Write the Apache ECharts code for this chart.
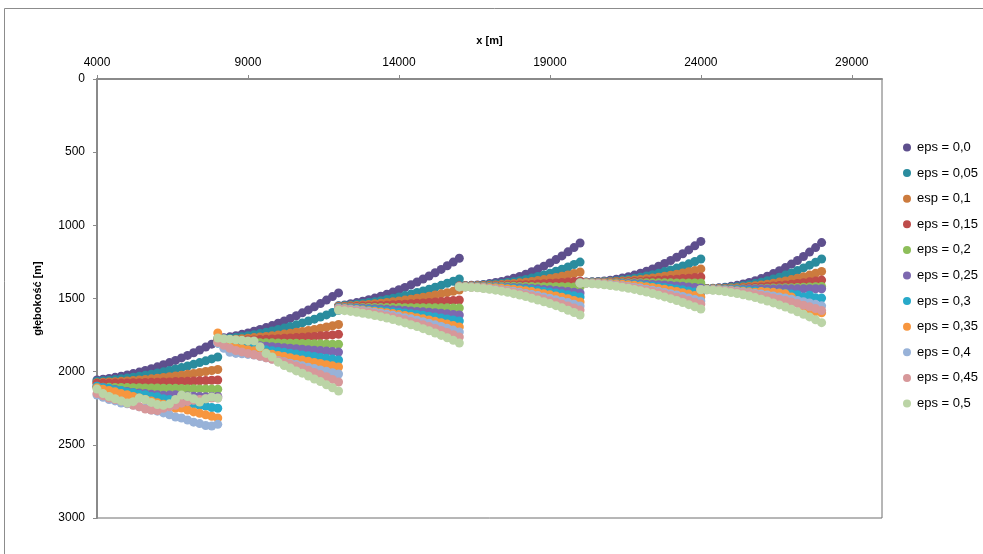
<!DOCTYPE html>
<html>
<head>
<meta charset="utf-8">
<script src="https://cdn.jsdelivr.net/npm/echarts@6/dist/echarts.min.js"></script>
<style>
html,body{margin:0;padding:0;background:#fff;}
#chart{width:983px;height:554px;}
</style>
</head>
<body>
<div id="chart"></div>
<script>
// Segment start positions (m) and sample offsets within a segment (m)
const segStarts = [4000, 8000, 12000, 16000, 20000, 24000];
const xOffsets = [0,200,400,600,800,1000,1200,1400,1600,1800,2000,2200,2400,2600,2800,3000,3200,3400,3600,3800,4000];
const xTicks = [4000, 9000, 14000, 19000, 24000, 29000];
const yTicks = [0, 500, 1000, 1500, 2000, 2500, 3000];

const seriesNames = ['eps = 0,0','eps = 0,05','esp = 0,1','eps = 0,15','eps = 0,2','eps = 0,25','eps = 0,3','eps = 0,35','eps = 0,4','eps = 0,45','eps = 0,5'];

// depth values [m], one sub-array per segment
const eps00 = [
[2057,2052,2046,2039,2031,2023,2013,2003,1992,1980,1967,1953,1938,1923,1906,1889,1871,1852,1832,1812,1790],
[1775,1769,1762,1754,1745,1735,1724,1712,1699,1685,1669,1653,1636,1618,1598,1578,1557,1535,1511,1487,1462],
[1550,1544,1536,1528,1519,1508,1497,1484,1471,1456,1440,1424,1406,1387,1367,1346,1324,1301,1276,1251,1225],
[1412,1412,1410,1408,1404,1398,1391,1383,1373,1362,1349,1334,1317,1299,1279,1257,1234,1209,1181,1152,1121],
[1388,1388,1386,1384,1380,1375,1368,1360,1351,1340,1327,1313,1298,1280,1261,1240,1218,1194,1168,1140,1110],
[1432,1432,1430,1427,1423,1417,1410,1401,1390,1378,1364,1348,1330,1310,1289,1265,1240,1213,1183,1152,1118]];
const eps005 = [
[2065,2062,2058,2054,2049,2044,2038,2032,2025,2017,2009,2001,1992,1982,1972,1961,1950,1938,1926,1913,1900],
[1780,1776,1772,1767,1761,1754,1747,1740,1731,1722,1712,1702,1691,1680,1667,1654,1641,1627,1612,1596,1580],
[1552,1548,1544,1540,1534,1528,1522,1515,1507,1499,1489,1480,1470,1459,1448,1436,1423,1410,1396,1382,1367],
[1413,1413,1412,1411,1408,1405,1401,1397,1391,1385,1378,1370,1360,1350,1339,1327,1314,1300,1285,1268,1251],
[1389,1389,1388,1387,1384,1382,1378,1373,1368,1361,1354,1346,1337,1327,1316,1305,1292,1278,1263,1247,1230],
[1433,1433,1432,1430,1427,1423,1419,1413,1406,1398,1389,1379,1367,1354,1340,1325,1309,1291,1272,1252,1230]];
const eps010 = [
[2075,2073,2071,2069,2066,2063,2060,2057,2053,2049,2045,2040,2035,2030,2024,2018,2012,2006,1999,1992,1985],
[1785,1783,1781,1778,1775,1771,1767,1763,1759,1754,1749,1743,1737,1731,1725,1718,1711,1703,1695,1687,1678],
[1555,1553,1550,1547,1544,1541,1536,1532,1527,1522,1517,1511,1505,1498,1491,1484,1476,1468,1460,1451,1442],
[1414,1414,1413,1413,1411,1410,1407,1405,1401,1398,1393,1389,1383,1377,1371,1364,1356,1348,1339,1329,1319],
[1390,1390,1389,1389,1387,1386,1383,1381,1378,1374,1370,1365,1360,1354,1348,1341,1334,1326,1317,1308,1298],
[1434,1434,1433,1432,1431,1428,1426,1422,1418,1413,1408,1402,1395,1388,1380,1371,1361,1351,1340,1328,1315]];
const eps015 = [
[2080,2080,2079,2078,2078,2077,2076,2075,2074,2073,2072,2071,2070,2068,2067,2066,2064,2062,2061,2059,2057],
[1790,1789,1788,1787,1786,1784,1783,1781,1779,1777,1775,1772,1770,1767,1765,1762,1759,1755,1752,1749,1745],
[1557,1556,1555,1554,1552,1551,1549,1548,1546,1543,1541,1539,1536,1533,1530,1527,1524,1521,1517,1514,1510],
[1415,1415,1415,1414,1414,1413,1413,1412,1410,1409,1407,1406,1404,1401,1399,1396,1394,1391,1387,1384,1380],
[1391,1391,1391,1390,1390,1389,1388,1387,1386,1384,1383,1381,1379,1376,1374,1371,1368,1364,1361,1357,1353],
[1434,1434,1434,1433,1432,1431,1430,1428,1426,1424,1421,1418,1414,1411,1407,1402,1397,1392,1386,1380,1374]];
const eps020 = [
[2105,2106,2107,2108,2108,2109,2110,2110,2111,2112,2112,2113,2114,2114,2115,2116,2117,2118,2118,2119,2120],
[1795,1796,1797,1798,1799,1800,1801,1802,1803,1803,1804,1805,1806,1806,1807,1808,1809,1810,1811,1812,1813],
[1560,1560,1560,1561,1561,1561,1561,1562,1562,1562,1562,1563,1563,1563,1563,1564,1564,1564,1564,1565,1565],
[1416,1416,1416,1416,1416,1416,1417,1417,1417,1417,1418,1418,1418,1419,1419,1419,1420,1420,1420,1421,1421],
[1392,1392,1392,1392,1392,1392,1392,1392,1392,1392,1393,1393,1393,1393,1393,1393,1394,1394,1394,1394,1394],
[1435,1435,1435,1435,1435,1434,1434,1433,1433,1432,1431,1430,1429,1428,1427,1426,1425,1423,1422,1420,1418]];
const eps025 = [
[2100,2108,2115,2122,2130,2135,2142,2146,2150,2155,2158,2162,2160,2158,2163,2166,2168,2170,2172,2170,2170],
[1800,1803,1807,1810,1813,1817,1820,1823,1826,1830,1833,1836,1840,1843,1846,1850,1853,1856,1859,1863,1866],
[1562,1563,1564,1565,1567,1569,1570,1572,1574,1577,1579,1582,1585,1588,1591,1594,1597,1601,1605,1609,1613],
[1417,1417,1417,1418,1418,1419,1420,1421,1423,1425,1427,1429,1432,1434,1438,1441,1445,1448,1453,1457,1462],
[1392,1392,1392,1393,1393,1394,1395,1396,1397,1398,1400,1402,1404,1406,1408,1411,1414,1417,1421,1424,1428],
[1436,1436,1436,1436,1436,1436,1436,1436,1435,1435,1435,1435,1435,1434,1434,1434,1434,1434,1433,1433,1433]];
const eps030 = [
[2100,2110,2114,2125,2128,2140,2144,2155,2158,2170,2172,2185,2190,2200,2203,2215,2220,2232,2235,2245,2250],
[1805,1811,1817,1822,1828,1834,1840,1845,1851,1857,1863,1868,1874,1880,1886,1891,1897,1903,1909,1914,1920],
[1564,1566,1568,1570,1573,1576,1579,1582,1586,1590,1594,1599,1604,1609,1615,1621,1627,1633,1640,1647,1654],
[1418,1418,1418,1419,1420,1421,1423,1425,1428,1430,1434,1437,1441,1446,1451,1456,1462,1468,1475,1482,1490],
[1393,1393,1393,1394,1395,1396,1398,1400,1402,1405,1408,1411,1415,1420,1424,1430,1435,1441,1448,1455,1462],
[1437,1437,1437,1438,1439,1440,1441,1443,1445,1447,1450,1453,1457,1460,1464,1469,1474,1490,1478,1495,1497]];
const eps035 = [
[2110,2120,2128,2138,2150,2158,2170,2180,2190,2200,2212,2222,2235,2250,2248,2262,2275,2285,2295,2305,2317],
[1735,1818,1826,1834,1842,1850,1857,1865,1873,1881,1889,1897,1905,1913,1921,1929,1937,1944,1952,1960,1968],
[1566,1568,1571,1575,1578,1583,1587,1592,1597,1603,1610,1616,1623,1631,1639,1647,1656,1665,1675,1685,1695],
[1419,1419,1420,1421,1422,1424,1426,1429,1433,1437,1442,1447,1453,1460,1467,1475,1483,1492,1502,1513,1524],
[1393,1393,1394,1394,1396,1398,1400,1403,1406,1410,1414,1419,1425,1431,1437,1445,1452,1461,1470,1480,1490],
[1438,1438,1439,1440,1442,1444,1447,1450,1454,1458,1452,1455,1458,1462,1468,1490,1520,1550,1575,1590,1598]];
const eps040 = [
[2160,2175,2190,2200,2214,2220,2228,2240,2250,2262,2270,2282,2295,2310,2317,2330,2345,2355,2368,2372,2360],
[1805,1840,1868,1875,1878,1882,1886,1895,1905,1914,1923,1932,1942,1951,1960,1970,1979,1988,1998,2007,2016],
[1568,1571,1575,1579,1583,1589,1594,1601,1607,1615,1622,1631,1639,1649,1659,1669,1680,1691,1704,1716,1729],
[1420,1421,1422,1424,1427,1431,1435,1440,1445,1451,1458,1465,1472,1480,1489,1498,1508,1518,1528,1539,1551],
[1394,1395,1396,1398,1401,1404,1408,1413,1418,1423,1429,1436,1443,1451,1459,1467,1476,1486,1496,1506,1517],
[1438,1439,1440,1442,1444,1447,1451,1455,1460,1465,1470,1476,1483,1490,1497,1505,1513,1522,1531,1540,1550]];
const eps045 = [
[2150,2165,2180,2190,2200,2215,2230,2240,2255,2262,2265,2250,2240,2230,2215,2205,2195,2190,2185,2180,2180],
[1800,1820,1840,1855,1865,1875,1885,1895,1905,1915,1925,1935,1950,1962,1975,1990,2005,2020,2035,2053,2071],
[1572,1576,1580,1585,1590,1596,1603,1611,1619,1627,1637,1646,1657,1668,1680,1692,1705,1718,1733,1748,1763],
[1420,1421,1423,1425,1429,1433,1438,1444,1451,1458,1466,1474,1483,1493,1504,1515,1526,1539,1551,1565,1579],
[1395,1396,1397,1400,1403,1407,1411,1417,1422,1429,1436,1444,1452,1461,1470,1480,1491,1502,1513,1525,1538],
[1439,1440,1441,1444,1447,1451,1455,1461,1466,1473,1480,1488,1496,1505,1514,1524,1535,1546,1557,1569,1582]];
const eps050 = [
[2119,2150,2170,2185,2200,2214,2205,2180,2190,2210,2225,2230,2220,2190,2160,2170,2185,2207,2185,2173,2180],
[1770,1775,1778,1782,1786,1790,1790,1830,1875,1900,1935,1958,1975,1995,2010,2030,2050,2068,2090,2110,2132],
[1579,1583,1588,1594,1601,1608,1616,1624,1634,1644,1655,1667,1679,1692,1706,1720,1736,1752,1768,1786,1804],
[1421,1422,1424,1427,1432,1437,1443,1450,1458,1467,1476,1486,1498,1510,1522,1535,1549,1564,1580,1596,1613],
[1396,1397,1399,1402,1406,1411,1416,1423,1430,1438,1447,1456,1466,1477,1489,1501,1514,1527,1542,1557,1572],
[1440,1441,1444,1447,1452,1459,1466,1474,1483,1494,1505,1517,1530,1544,1558,1574,1591,1608,1626,1645,1665]];

const seriesValues = [eps00, eps005, eps010, eps015, eps020, eps025, eps030, eps035, eps040, eps045, eps050];
const colors = ['#5E4F8D','#2A8C9E','#CC7B3E','#BE4C4A','#8DBE5A','#7D68B0','#27A9C9','#F7963F','#98B2D8','#D7989A','#BBD4A6'];

function buildData(segs) {
  const out = [];
  segs.forEach((vals, s) => {
    vals.forEach((d, i) => out.push([segStarts[s] + xOffsets[i], d]));
  });
  return out;
}

const FONT = 'Liberation Sans, Arial, sans-serif';
const chart = echarts.init(document.getElementById('chart'), null, {renderer: 'canvas'});
chart.setOption({
  backgroundColor: '#ffffff',
  animation: false,
  color: colors,
  graphic: [{
    type: 'rect', silent: true, z: -1,
    shape: {x: 4.5, y: 8.5, width: 1000, height: 600},
    style: {fill: 'none', stroke: '#8c8c8c', lineWidth: 1}
  }],
  grid: {
    left: 97, top: 79, right: 101, bottom: 36,
    show: true, borderColor: '#6e6e6e', borderWidth: 1, backgroundColor: 'transparent'
  },
  legend: {
    orient: 'vertical', left: 898, top: 135,
    itemWidth: 10, itemHeight: 8, itemGap: 10.6,
    icon: 'circle',
    textStyle: {fontFamily: FONT, fontSize: 13, color: '#000', lineHeight: 15},
    data: seriesNames
  },
  xAxis: {
    type: 'value', position: 'top',
    min: 4000, max: 30000, interval: 5000,
    name: 'x [m]', nameLocation: 'middle', nameGap: 33,
    nameTextStyle: {fontFamily: FONT, fontSize: 11, fontWeight: 'bold', color: '#000'},
    axisLine: {show: true, lineStyle: {color: '#8a8a8a', width: 2}},
    axisTick: {show: true, inside: false, length: 4, lineStyle: {color: '#8a8a8a'}, customValues: xTicks},
    axisLabel: {fontFamily: FONT, fontSize: 12, color: '#000', margin: 10, customValues: xTicks,
      formatter: v => String(v)},
    splitLine: {show: false}
  },
  yAxis: {
    type: 'value', inverse: true,
    min: 0, max: 3000, interval: 500,
    name: 'głębokość [m]', nameLocation: 'middle', nameGap: 54, nameRotate: 90,
    nameTextStyle: {fontFamily: FONT, fontSize: 11, fontWeight: 'bold', color: '#000'},
    axisLine: {show: true, lineStyle: {color: '#8a8a8a', width: 2}},
    axisTick: {show: true, inside: false, length: 4, lineStyle: {color: '#8a8a8a'}, customValues: yTicks},
    axisLabel: {fontFamily: FONT, fontSize: 12, color: '#000', margin: 12, customValues: yTicks,
      formatter: v => String(v)},
    splitLine: {show: false}
  },
  series: seriesNames.map((name, k) => ({
    name: name,
    type: 'scatter',
    symbol: 'circle',
    symbolSize: 9,
    itemStyle: {color: colors[k], opacity: 1},
    data: buildData(seriesValues[k])
  }))
});
</script>
</body>
</html>
